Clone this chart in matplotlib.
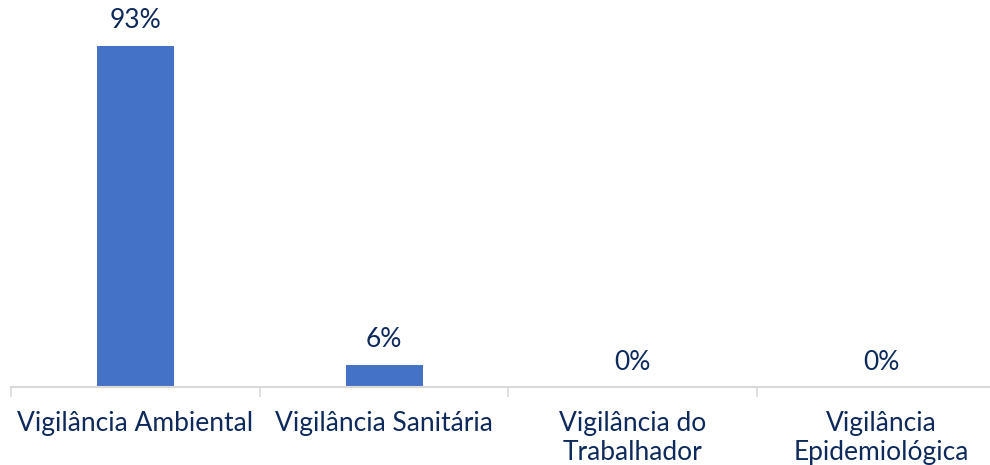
import matplotlib
matplotlib.use("Agg")
import matplotlib.pyplot as plt
import numpy as np

categories = ["Vigilância Ambiental", "Vigilância Sanitária", "Vigilância do\nTrabalhador", "Vigilância\nEpidemiológica"]
values = [93, 6, 0, 0]
labels = ["93%", "6%", "0%", "0%"]

text_color = "#0e2a5c"
bar_color = "#4472C4"
axis_color = "#d9d9d9"

plt.rcParams['font.family'] = ['Lato', 'DejaVu Sans']

fig = plt.figure(figsize=(9.9, 4.65), dpi=100)
ax = fig.add_axes([11/990, 78/465, 995/990, 367/465])
x = np.arange(len(categories))
ax.bar(x, values, width=0.31, color=bar_color)
for xi, v, lab in zip(x, values, labels):
    ax.annotate(lab, (xi, v), xytext=(0, 9), textcoords="offset points",
                ha="center", va="bottom", fontsize=19, color=text_color)
ax.set_xlim(-0.5, len(categories) - 0.5)
ax.set_ylim(0, 100)
for s in ["top", "right", "left"]:
    ax.spines[s].set_visible(False)
ax.spines["bottom"].set_color(axis_color)
ax.spines["bottom"].set_linewidth(1.5)
ax.set_yticks([])
ax.set_xticks(np.arange(-0.5, len(categories)), minor=False)
ax.set_xticklabels([])
ax.tick_params(axis="x", which="major", length=7, color=axis_color, width=1.2)
ax.set_xticks(x, minor=True)
ax.set_xticklabels(categories, minor=True, fontsize=19, color=text_color, linespacing=1.22)
ax.tick_params(axis="x", which="minor", length=0, pad=17)
fig.savefig("out.png", dpi=100)
